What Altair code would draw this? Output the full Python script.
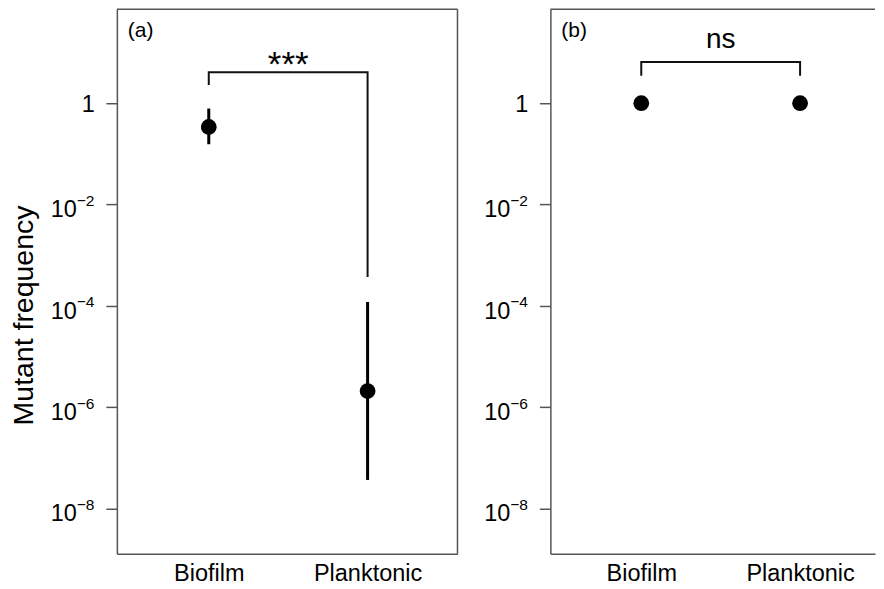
import altair as alt
import pandas as pd

# ---- data ----
groups = ["Biofilm", "Planktonic"]
group_pos = [1, 2]

a_mean = [0.34, 2.1e-6]
a_low = [0.155, 3.7e-8]
a_high = [0.785, 1.2e-4]

b_mean = [1.0, 1.0]
b_low = [0.85, 0.85]
b_high = [1.15, 1.15]

a_bracket_x = [1, 1, 2, 2]
a_bracket_y = [2.3, 4.1, 4.1, 3.75e-4]
a_sig = "***"
b_bracket_x = [1, 1, 2, 2]
b_bracket_y = [3.5, 6.5, 6.5, 3.5]
b_sig = "ns"

y_ticks = [1, 1e-2, 1e-4, 1e-6, 1e-8]
y_tick_base = ["1", "10", "10", "10", "10"]
y_tick_sup = ["", "−2", "−4", "−6", "−8"]
y_domain = [10 ** -8.887, 10 ** 1.852]

FONT = "Liberation Sans"
GREY = "#555555"
W_A, W_B, H = 341, 325, 545

label_expr_x = "['', " + ",".join("'%s'" % s for s in groups) + "][round(datum.value)]"


def panel(mean, low, high, bx, by, sig, sig_dy, sig_size, tag, width, xdom, show_title):
    df = pd.DataFrame({"x": group_pos, "g": groups, "mean": mean, "low": low, "high": high})
    br = pd.DataFrame({"x": bx, "y": by, "o": list(range(len(bx)))})
    sig_df = pd.DataFrame({"x": [sum(group_pos) / 2], "y": [max(by)], "t": [sig]})
    ticks_df = pd.DataFrame({"v": y_ticks, "base": y_tick_base, "sup": y_tick_sup})
    dummy = pd.DataFrame({"d": [0]})

    xs = alt.Scale(domain=xdom, nice=False, zero=False)
    ys = alt.Scale(type="log", domain=y_domain, nice=False)

    x_axis = alt.Axis(values=group_pos, labelExpr=label_expr_x, ticks=False, grid=False,
                      labelFontSize=23.5, labelPadding=8, labelColor="black", title=None,
                      domainColor=GREY, domainWidth=1.5, labelFlush=False)
    y_axis = alt.Axis(values=y_ticks, labels=False, grid=False,
                      tickSize=11, tickColor=GREY, tickWidth=1.5,
                      domainColor=GREY, domainWidth=1.5,
                      title="Mutant frequency" if show_title else None,
                      titleFontSize=28.5, titleFontWeight="normal", titleColor="black",
                      titleX=-84, titleY=306, titleBaseline="alphabetic", titleAngle=270)

    X = lambda f: alt.X(f, scale=xs, axis=x_axis)
    Y = lambda f: alt.Y(f, scale=ys, axis=y_axis)

    err = alt.Chart(df).mark_rule(color="black", strokeWidth=3).encode(
        x=X("x:Q"), y=Y("low:Q"), y2="high:Q",
    )
    pts = alt.Chart(df).mark_circle(color="black", opacity=1, size=250).encode(
        x=X("x:Q"), y=Y("mean:Q"),
    )
    bracket = alt.Chart(br).mark_line(color="#111111", strokeWidth=2).encode(
        x=X("x:Q"), y=Y("y:Q"), order="o:Q",
    )
    sig_txt = alt.Chart(sig_df).mark_text(font=FONT, fontSize=sig_size, color="black",
                                          baseline="alphabetic", dy=sig_dy).encode(
        x=X("x:Q"), y=Y("y:Q"), text="t:N",
    )
    # y tick labels: "1" and "10" with a superscript exponent
    lab_one = alt.Chart(ticks_df).transform_filter("datum.sup == ''").mark_text(
        font=FONT, fontSize=23.5, color="black", align="right", baseline="alphabetic", dy=8.5
    ).encode(x=alt.value(-22), y=Y("v:Q"), text="base:N")
    lab_ten = alt.Chart(ticks_df).transform_filter("datum.sup != ''").mark_text(
        font=FONT, fontSize=23.5, color="black", align="right", baseline="alphabetic", dy=12.7
    ).encode(x=alt.value(-40), y=Y("v:Q"), text="base:N")
    lab_sup = alt.Chart(ticks_df).transform_filter("datum.sup != ''").mark_text(
        font=FONT, fontSize=15.5, color="black", align="right", baseline="alphabetic", dy=1.5
    ).encode(x=alt.value(-22.5), y=Y("v:Q"), text="sup:N")

    layers = [err, pts, bracket, sig_txt, lab_one, lab_ten, lab_sup]
    layers.append(alt.Chart(dummy).mark_rule(color=GREY, strokeWidth=1.5).encode(
        x=alt.value(0), x2=alt.value(width), y=alt.value(0)))
    if show_title:
        layers.append(alt.Chart(dummy).mark_rule(color=GREY, strokeWidth=1.5).encode(
            x=alt.value(width), y=alt.value(0), y2=alt.value(H)))
    layers.append(alt.Chart(dummy).mark_text(font=FONT, fontSize=21, color="black",
                                             align="left", baseline="middle").encode(
        x=alt.value(11), y=alt.value(22), text=alt.value(tag)))
    return alt.layer(*layers).properties(width=width, height=H)


pa = panel(a_mean, a_low, a_high, a_bracket_x, a_bracket_y, a_sig, 4, 35, "(a)", W_A,
           [0.4214, 2.566], True)
pb = panel(b_mean, b_low, b_high, b_bracket_x, b_bracket_y, b_sig, -14, 28, "(b)", W_B,
           [0.4277, 2.4717], False)

chart = alt.hconcat(pa, pb, spacing=93, bounds="flush").properties(
    padding={"left": 2, "top": 0, "right": 0, "bottom": 0}
).configure(font=FONT).configure_view(stroke=None)

chart.save("out.html", embed_options={"renderer": "svg", "actions": False})
